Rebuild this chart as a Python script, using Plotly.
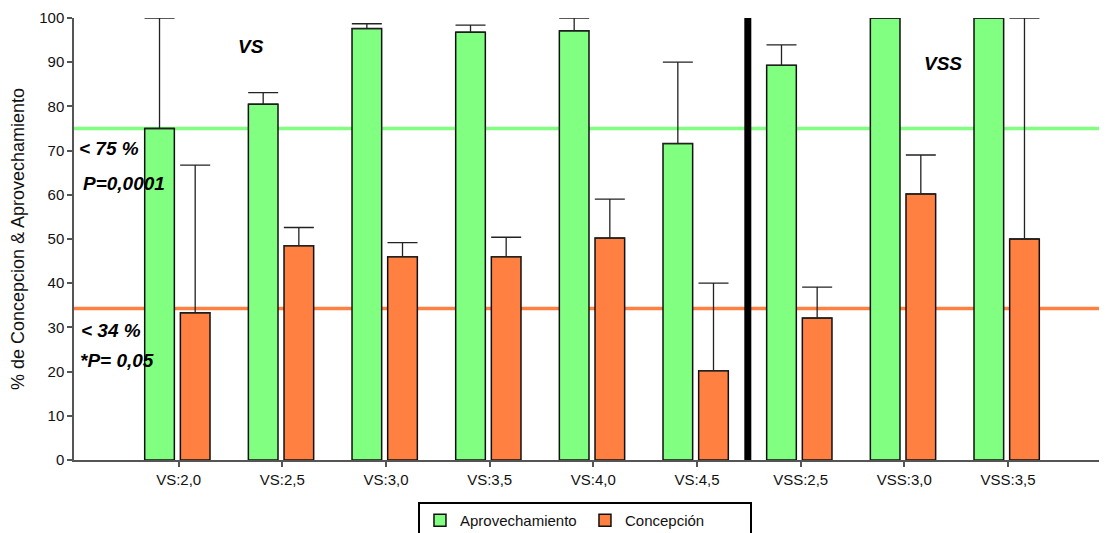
import plotly.graph_objects as go

categories = ["VS:2,0", "VS:2,5", "VS:3,0", "VS:3,5", "VS:4,0", "VS:4,5", "VSS:2,5", "VSS:3,0", "VSS:3,5"]
aprovechamiento = [75, 80.5, 97.6, 96.8, 97.1, 71.6, 89.3, 100, 100]
aprov_err = [25, 2.6, 1.1, 1.6, 2.9, 18.4, 4.6, 0, 0]
concepcion = [33.3, 48.5, 46.0, 46.0, 50.2, 20.2, 32.1, 60.2, 50.0]
concep_err = [33.4, 4.1, 3.2, 4.4, 8.8, 19.8, 7.0, 8.8, 50.0]
ref_aprov = 75
ref_concep = 34.3

GREEN = "#80FF80"
ORANGE = "#FF8040"
FONT = "Liberation Sans, Arial, sans-serif"

fig = go.Figure()
fig.add_trace(go.Bar(
    x=categories, y=aprovechamiento, name="Aprovechamiento",
    marker=dict(color=GREEN, line=dict(color="#111", width=1.5)),
    offset=-0.328, width=0.286,
    error_y=dict(type="data", array=aprov_err, arrayminus=[0]*len(aprov_err),
                 symmetric=False, color="#222", thickness=1.3, width=15),
))
fig.add_trace(go.Bar(
    x=categories, y=concepcion, name="Concepción",
    marker=dict(color=ORANGE, line=dict(color="#111", width=1.5)),
    offset=0.016, width=0.286,
    error_y=dict(type="data", array=concep_err, arrayminus=[0]*len(concep_err),
                 symmetric=False, color="#222", thickness=1.3, width=15),
))

shapes = [
    dict(type="line", xref="x", yref="y", x0=5.49, x1=5.49, y0=0, y1=100,
         line=dict(color="black", width=7), layer="below"),
    dict(type="line", xref="paper", yref="y", x0=0, x1=1, y0=ref_aprov, y1=ref_aprov,
         line=dict(color=GREEN, width=3.5), layer="below"),
    dict(type="line", xref="paper", yref="y", x0=0, x1=1, y0=ref_concep, y1=ref_concep,
         line=dict(color=ORANGE, width=3.5), layer="below"),
]

ann_font = dict(family=FONT, size=19, color="black")
annotations = [
    dict(x=0.70, y=93.5, xref="x", yref="y", text="<b><i>VS</i></b>", showarrow=False,
         font=ann_font),
    dict(x=7.37, y=89.7, xref="x", yref="y", text="<b><i>VSS</i></b>", showarrow=False,
         font=ann_font),
    dict(x=0.003, y=70.5, xref="paper", yref="y", xanchor="left", text="<b><i>< 75 %</i></b>",
         showarrow=False, font=ann_font),
    dict(x=0.007, y=62.5, xref="paper", yref="y", xanchor="left", text="<b><i>P=0,0001</i></b>",
         showarrow=False, font=ann_font),
    dict(x=0.005, y=29.4, xref="paper", yref="y", xanchor="left", text="<b><i>< 34 %</i></b>",
         showarrow=False, font=ann_font),
    dict(x=0.004, y=22.4, xref="paper", yref="y", xanchor="left", text="<b><i>*P= 0,05</i></b>",
         showarrow=False, font=ann_font),
]

fig.update_layout(
    width=1099, height=525,
    margin=dict(l=66, r=0, t=10, b=73, autoexpand=False),
    paper_bgcolor="white", plot_bgcolor="white",
    font=dict(family=FONT, size=15, color="#111"),
    barmode="overlay",
    shapes=shapes, annotations=annotations,
    showlegend=True,
    legend=dict(orientation="h", xref="container", yref="container",
                x=0.525, xanchor="center", y=0.059, yanchor="top",
                bordercolor="black", borderwidth=2, bgcolor="white",
                font=dict(family=FONT, size=15, color="#111"),
                entrywidth=120, itemwidth=30, traceorder="normal"),
)
fig.update_xaxes(
    type="category", range=[-1.01, 8.955], automargin=False,
    showline=True, linecolor="#555", linewidth=1.5,
    ticks="outside", ticklen=5, tickcolor="#555", tickwidth=1.5,
    showgrid=False, zeroline=False,
    tickfont=dict(family=FONT, size=15, color="#111"),
)
fig.update_yaxes(
    range=[0, 100], tickvals=list(range(0, 101, 10)), automargin=False,
    showline=True, linecolor="#555", linewidth=1.5,
    ticks="outside", ticklen=5, tickcolor="#555", tickwidth=1.5,
    showgrid=False, zeroline=False,
    tickfont=dict(family=FONT, size=15, color="#111"),
    title=dict(text="% de Concepcion & Aprovechamiento", standoff=12,
               font=dict(family=FONT, size=18, color="#111")),
)

fig.write_html("out.html")
